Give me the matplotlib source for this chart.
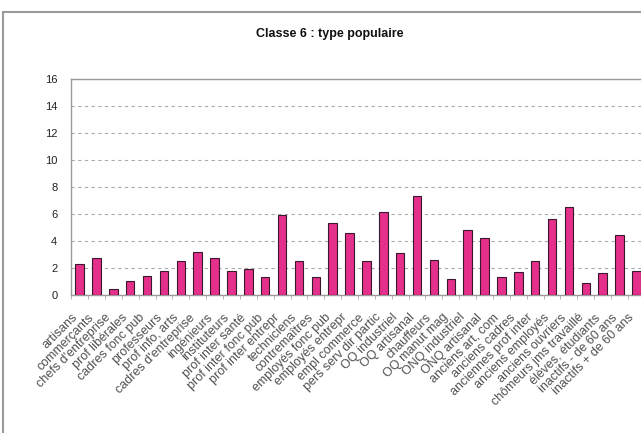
import matplotlib
matplotlib.use("Agg")
import matplotlib.pyplot as plt
from matplotlib.patches import Rectangle
from matplotlib.transforms import ScaledTranslation
import numpy as np

categories = [
    "artisans", "commerçants", "chefs d'entreprise", "prof libérales",
    "cadres fonc pub", "professeurs", "prof info, arts", "cadres d'entreprise",
    "ingénieurs", "instituteurs", "prof inter santé", "prof inter fonc pub",
    "prof inter entrepr", "techniciens", "contremaîtres", "employés fonc pub",
    "employés entrepr", "empl commerce", "pers serv dir partic", "OQ industriel",
    "OQ artisanal", "chauffeurs", "OQ manut mag", "ONQ industriel",
    "ONQ artisanal", "anciens art, com", "anciens cadres", "anciennes prof inter",
    "anciens employés", "anciens ouvriers", "chômeurs jms travaillé",
    "élèves, étudiants", "inactifs - de 60 ans", "inactifs + de 60 ans",
]
values = [
    2.3, 2.7, 0.4, 1.0, 1.4, 1.8, 2.5, 3.2, 2.7, 1.8, 1.9, 1.3,
    5.9, 2.5, 1.3, 5.3, 4.6, 2.5, 6.1, 3.1, 7.3, 2.6, 1.2, 4.8,
    4.2, 1.3, 1.7, 2.5, 5.6, 6.5, 0.9, 1.6, 4.4, 1.8,
]
y_ticks = [0, 2, 4, 6, 8, 10, 12, 14, 16]

plt.rcParams["font.family"] = ["Liberation Sans", "DejaVu Sans"]

fig = plt.figure(figsize=(6.41, 4.33), dpi=100)
ax = fig.add_axes([0.111, 0.319, 0.895, 0.499])

x = np.arange(len(categories))
ax.bar(x, values, width=0.5, color="#e4308a", edgecolor="#3a1830", linewidth=0.8, zorder=3)

ax.set_xlim(-0.5, len(categories) - 0.5)
ax.set_ylim(0, 16)
ax.set_yticks(y_ticks)
ax.set_yticklabels([str(t) for t in y_ticks], fontsize=8, color="#222222")
ax.tick_params(axis="y", length=0, pad=10)

ax.set_xticks(x)
ax.set_xticklabels(categories, rotation=45, ha="right", rotation_mode="anchor",
                   fontsize=9, color="#505050")
ax.tick_params(axis="x", length=0, pad=12)
# nudge the labels a bit to the left like in the original
offset = ScaledTranslation(-6 / 72, 0, fig.dpi_scale_trans)
for lbl in ax.get_xticklabels():
    lbl.set_transform(lbl.get_transform() + offset)
ax.set_xticks(np.arange(-0.5, len(categories), 1), minor=True)
ax.tick_params(axis="x", which="minor", length=3, color="#aaaaaa")

ax.yaxis.grid(True, linestyle=(0, (3, 3)), color="#aaaaaa", linewidth=0.8, zorder=0)
for s in ["left", "bottom", "top"]:
    ax.spines[s].set_color("#9a9a9a")
    ax.spines[s].set_linewidth(1.0)
ax.spines["right"].set_visible(False)

fig.text(0.515, 0.922, "Classe 6 : type populaire", ha="center", va="center",
         fontsize=9, fontweight="bold", color="#111111")

# outer chart border (runs off the right and bottom edges)
fig.patches.append(Rectangle((0.004, -0.1), 1.1, 1.072, transform=fig.transFigure,
                             fill=False, edgecolor="#9a9a9a", linewidth=1.5))

fig.savefig("out.png", dpi=100)
